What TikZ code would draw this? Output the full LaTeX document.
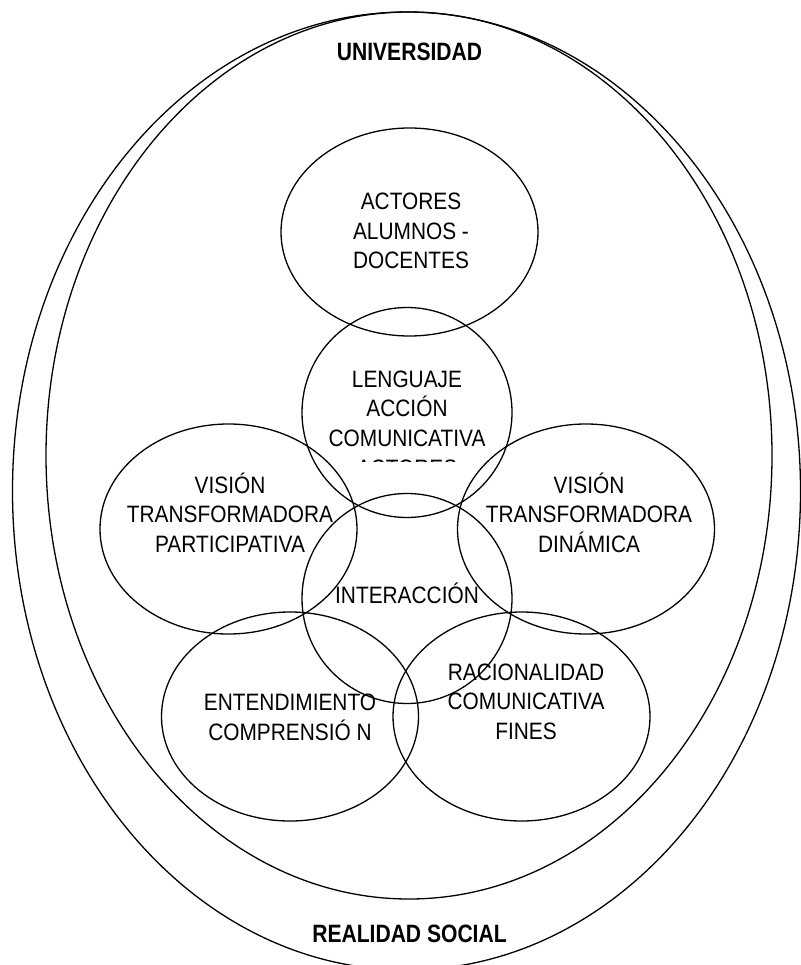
\documentclass[tikz,border=0pt]{standalone}
\usepackage{fontspec}
\setmainfont{Liberation Sans}[FakeStretch=0.88]
\newfontfamily\titlefont{Liberation Sans}[FakeStretch=0.84]
\begin{document}
\begin{tikzpicture}[x=1pt, y=-1pt, line width=1.3pt,
    venntext/.style={align=center, inner sep=0pt, font=\fontsize{23.7}{29.6}\selectfont},
    bigtitle/.style={inner sep=0pt, font=\titlefont\bfseries\fontsize{25.1}{30}\selectfont}]
    \def \rx {128.5}  % half width of the wide ellipses
    \def \ry {105}    % half height of the ellipses
    \def \rc {105}    % radius of the two middle circles
    \useasboundingbox (0,0) rectangle (800,965);
    % realidad social
    \draw (406.5,491) ellipse [x radius=394, y radius=479];
    % universidad
    \draw (409,455.5) ellipse [x radius=363, y radius=443.5];
    % actores
    \draw (409.5,232) ellipse [x radius=\rx, y radius=104];
    % lenguaje
    \draw (407,412.5) ellipse [x radius=\rc, y radius=\rc];
    % vision participativa / dinamica
    \draw (228.5,529) ellipse [x radius=\rx, y radius=\ry];
    \draw (586,529) ellipse [x radius=\rx, y radius=\ry];
    % interaccion
    \draw (407,598.5) ellipse [x radius=\rc, y radius=\rc];
    % entendimiento / racionalidad
    \draw (290,716.5) ellipse [x radius=\rx, y radius=104.5];
    \draw (521.5,716.5) ellipse [x radius=\rx, y radius=104.5];
    % captions
    \node[bigtitle] (univ) at (409.5,52) {UNIVERSIDAD};
    \node[bigtitle] (real) at (409.5,934) {REALIDAD SOCIAL};
    \node[venntext] (actores) at (411,231) {ACTORES\\ALUMNOS -\\DOCENTES};
    \begin{scope}
        \clip (290,300) rectangle (525,461);
        \node[venntext] (lenguaje) at (407,423.5) {LENGUAJE\\ACCIÓN\\COMUNICATIVA\\ACTORES};
    \end{scope}
    \node[venntext] (partic) at (230,512.5) {VISIÓN\\TRANSFORMADORA\\PARTICIPATIVA};
    \node[venntext] (dinam) at (589,512.5) {VISIÓN\\TRANSFORMADORA\\DINÁMICA};
    \node[venntext] (inter) at (407,593) {INTERACCIÓN};
    \node[venntext] (entend) at (290,717.5) {ENTENDIMIENTO\\COMPRENSIÓ N};
    \node[venntext] (racion) at (526,701.5) {RACIONALIDAD\\COMUNICATIVA\\FINES};
\end{tikzpicture}
\end{document}
